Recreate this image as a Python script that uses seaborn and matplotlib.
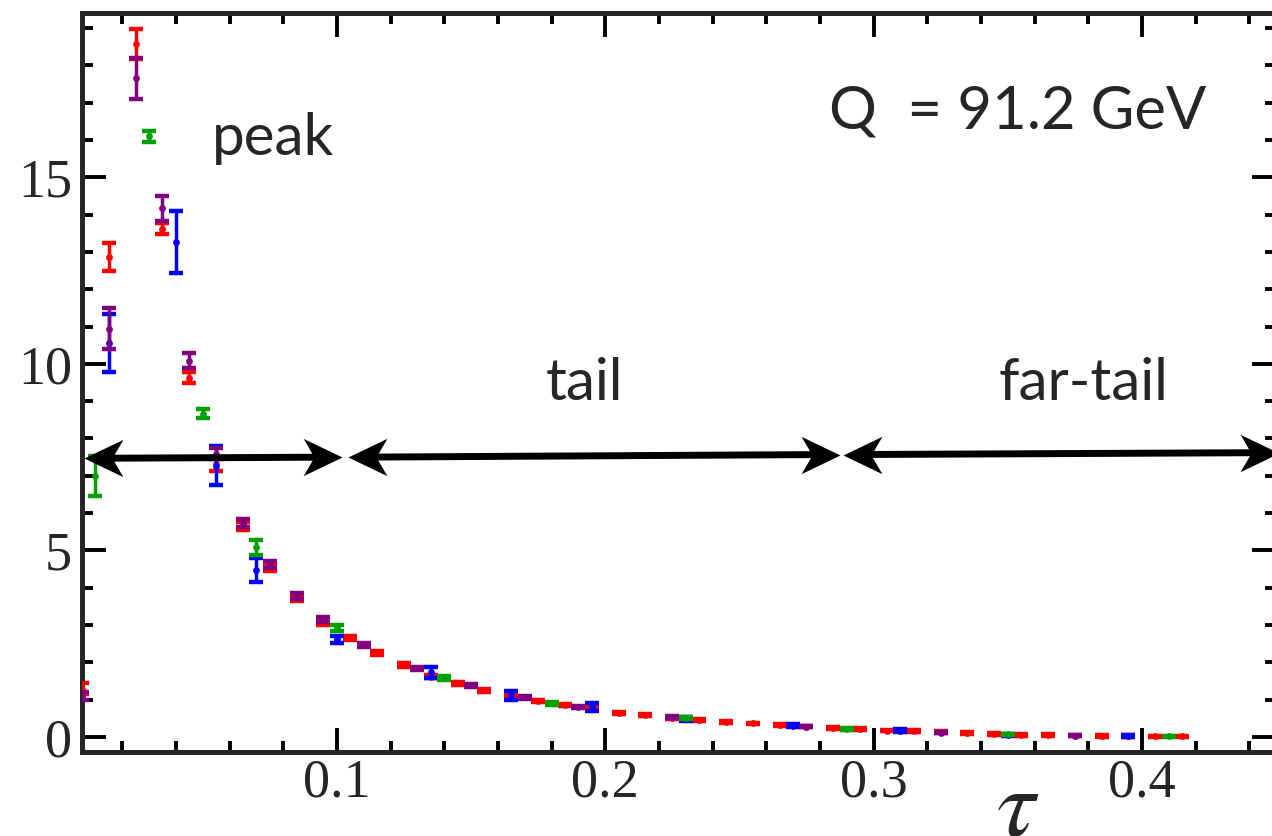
import numpy as np
import pandas as pd
import matplotlib
matplotlib.use("Agg")
import matplotlib.pyplot as plt
from matplotlib.ticker import MultipleLocator, FixedLocator
from matplotlib.path import Path
import seaborn as sns

# ---------------- data ----------------
red_x = [0.005, 0.015, 0.025, 0.035, 0.045, 0.055, 0.065, 0.075, 0.085, 0.095,
         0.105, 0.115, 0.125, 0.135, 0.145, 0.155, 0.165, 0.175, 0.185, 0.195,
         0.205, 0.215, 0.225, 0.235, 0.245, 0.255, 0.265, 0.275, 0.285, 0.295,
         0.305, 0.315, 0.325, 0.335, 0.345, 0.355, 0.365, 0.375, 0.385, 0.395,
         0.405, 0.415]
red_y = [1.30, 12.86, 18.56, 13.62, 9.63, 7.32, 5.65, 4.55, 3.72, 3.08,
         2.65, 2.25, 1.93, 1.62, 1.44, 1.26, 1.10, 0.96, 0.86, 0.77,
         0.64, 0.59, 0.52, 0.45, 0.40, 0.37, 0.32, 0.28, 0.24, 0.21,
         0.17, 0.16, 0.13, 0.11, 0.08, 0.06, 0.05, 0.04, 0.03, 0.03,
         0.02, 0.02]
red_e = [0.15, 0.38, 0.40, 0.15, 0.14, 0.18, 0.10, 0.09, 0.08, 0.07,
         0.06, 0.05, 0.05, 0.05, 0.04, 0.04, 0.04, 0.03, 0.03, 0.03,
         0.03, 0.03, 0.03, 0.03, 0.02, 0.02, 0.02, 0.02, 0.02, 0.02,
         0.02, 0.02, 0.02, 0.02, 0.02, 0.02, 0.02, 0.02, 0.02, 0.02,
         0.02, 0.02]

purple_x = [0.005, 0.015, 0.025, 0.035, 0.045, 0.055, 0.065, 0.075, 0.085, 0.095,
            0.110, 0.130, 0.150, 0.170, 0.190, 0.225, 0.275, 0.325, 0.375]
purple_y = [1.10, 10.94, 17.65, 14.17, 10.08, 7.59, 5.74, 4.62, 3.78, 3.16,
            2.46, 1.84, 1.39, 1.07, 0.80, 0.53, 0.28, 0.12, 0.04]
purple_e = [0.10, 0.55, 0.55, 0.33, 0.20, 0.15, 0.10, 0.09, 0.08, 0.07,
            0.06, 0.05, 0.04, 0.04, 0.03, 0.03, 0.02, 0.02, 0.02]

blue_x = [0.015, 0.040, 0.055, 0.070, 0.100, 0.135, 0.165, 0.195, 0.230, 0.270,
          0.310, 0.350, 0.395]
blue_y = [10.56, 13.26, 7.27, 4.47, 2.62, 1.74, 1.12, 0.80, 0.49, 0.30,
          0.17, 0.06, 0.03]
blue_e = [0.77, 0.83, 0.52, 0.32, 0.10, 0.15, 0.12, 0.10, 0.05, 0.04,
          0.04, 0.03, 0.02]

green_x = [0.010, 0.030, 0.050, 0.070, 0.100, 0.140, 0.180, 0.230, 0.290, 0.350, 0.410]
green_y = [7.00, 16.10, 8.66, 5.08, 2.93, 1.58, 0.91, 0.51, 0.22, 0.07, 0.02]
green_e = [0.53, 0.15, 0.12, 0.20, 0.08, 0.05, 0.04, 0.03, 0.02, 0.02, 0.02]

x_ticks = [0.1, 0.2, 0.3, 0.4]
x_tick_labels = ["0.1", "0.2", "0.3", "0.4"]
y_ticks = [0, 5, 10, 15]
y_tick_labels = ["0", "5", "10", "15"]

region_labels = ["peak", "tail", "far-tail"]
title_text = "Q  = 91.2 GeV"

# ---------------- styling ----------------
sns.set_style("ticks")
plt.rcParams["font.family"] = ["Liberation Serif", "DejaVu Serif"]
plt.rcParams["mathtext.fontset"] = "stix"

series = [
    ("red", red_x, red_y, red_e, "#ff0000"),
    ("blue", blue_x, blue_y, blue_e, "#0000ff"),
    ("green", green_x, green_y, green_e, "#00a000"),
    ("purple", purple_x, purple_y, purple_e, "#800080"),
]
frames = []
for name, xs, ys, es, col in series:
    frames.append(pd.DataFrame({"tau": xs, "val": ys, "err": es, "series": name}))
df = pd.concat(frames, ignore_index=True)

fig = plt.figure(figsize=(12.72, 8.36), dpi=100)
ax = fig.add_axes([82 / 1272, 84 / 836, (1276 - 82) / 1272, (752 - 13) / 836])

for i, (name, _, _, _, col) in enumerate(series):
    sub = df[df["series"] == name]
    ax.errorbar(sub["tau"], sub["val"], yerr=sub["err"], fmt="none",
                ecolor=col, elinewidth=2.5, capsize=5, capthick=3.2, zorder=3 + i)
    sns.scatterplot(data=sub, x="tau", y="val", color=col, s=24, linewidth=0,
                    ax=ax, zorder=3 + i, legend=False)

ax.set_xlim(0.005, 0.45)
ax.set_ylim(-0.4, 19.4)
ax.set_xlabel("")
ax.set_ylabel("")

ax.xaxis.set_major_locator(FixedLocator(x_ticks))
ax.set_xticklabels(x_tick_labels)
ax.xaxis.set_minor_locator(MultipleLocator(0.02))
ax.yaxis.set_major_locator(FixedLocator(y_ticks))
ax.set_yticklabels(y_tick_labels)
ax.yaxis.set_minor_locator(MultipleLocator(1))

for s in ax.spines.values():
    s.set_linewidth(3.6)
    s.set_visible(True)
ax.tick_params(which="both", direction="in", top=True, right=True,
               width=2.8, color="black")
ax.tick_params(which="major", length=17, labelsize=39, pad=4)
ax.tick_params(which="minor", length=8)
ax.tick_params(axis="y", which="major", pad=7)

# region arrows: shaft + notched heads
head_r = Path([(0, 0), (-1, 0.48), (-0.72, 0), (-1, -0.48), (0, 0)],
              [Path.MOVETO, Path.LINETO, Path.LINETO, Path.LINETO, Path.CLOSEPOLY])
head_l = Path([(0, 0), (1, 0.48), (0.72, 0), (1, -0.48), (0, 0)],
              [Path.MOVETO, Path.LINETO, Path.LINETO, Path.LINETO, Path.CLOSEPOLY])
arrows = [((0.0058, 7.47), (0.1020, 7.50)),
          ((0.1042, 7.50), (0.2875, 7.57)),
          ((0.2888, 7.57), (0.4510, 7.62))]
for (x0, y0), (x1, y1) in arrows:
    ax.plot([x0 + 0.005, x1 - 0.005], [y0, y1], color="black", lw=5,
            solid_capstyle="butt", clip_on=False, zorder=10)
    ax.plot([x0], [y0], marker=head_l, markersize=56, color="black",
            markeredgewidth=0, clip_on=False, zorder=11)
    ax.plot([x1], [y1], marker=head_r, markersize=56, color="black",
            markeredgewidth=0, clip_on=False, zorder=11)

sans = ["Lato", "DejaVu Sans"]
ax.text(0.0535, 15.59, region_labels[0], fontsize=42, family=sans, va="baseline", ha="left")
ax.text(0.178, 9.03, region_labels[1], fontsize=42, family=sans, va="baseline", ha="left")
ax.text(0.3467, 9.03, region_labels[2], fontsize=42, family=sans, va="baseline", ha="left")
ax.text(0.2835, 16.31, title_text, fontsize=43, family=sans, va="baseline", ha="left")
ax.text(0.3457, -0.85, r"$\tau$", fontsize=70, va="top", ha="left", clip_on=False)

fig.savefig("out.png", dpi=100)
